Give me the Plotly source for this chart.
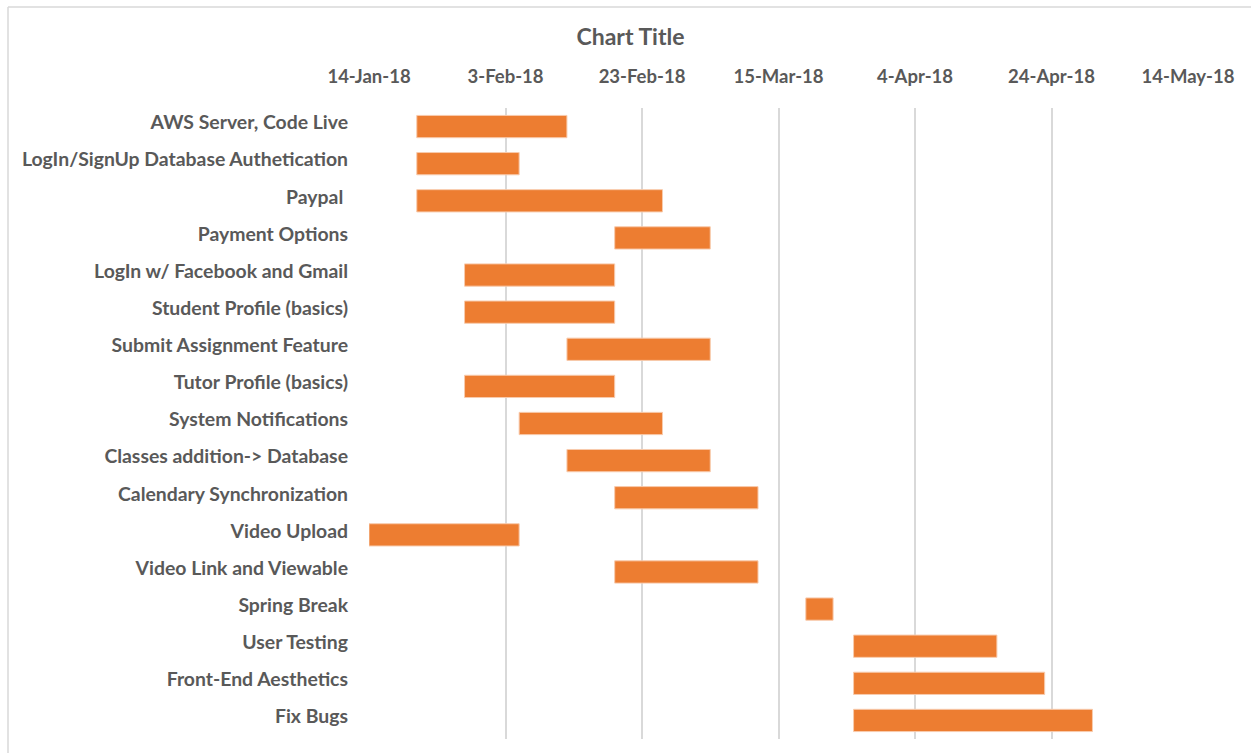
import plotly.graph_objects as go
import pandas as pd

tasks = [
    "AWS Server, Code Live",
    "LogIn/SignUp Database Authetication",
    "Paypal ",
    "Payment Options",
    "LogIn w/ Facebook and Gmail",
    "Student Profile (basics)",
    "Submit Assignment Feature",
    "Tutor Profile (basics)",
    "System Notifications",
    "Classes addition-> Database",
    "Calendary Synchronization",
    "Video Upload",
    "Video Link and Viewable",
    "Spring Break",
    "User Testing",
    "Front-End Aesthetics",
    "Fix Bugs",
]
start_dates = [
    "2018-01-21", "2018-01-21", "2018-01-21", "2018-02-19", "2018-01-28",
    "2018-01-28", "2018-02-12", "2018-01-28", "2018-02-05", "2018-02-12",
    "2018-02-19", "2018-01-14", "2018-02-19", "2018-03-19", "2018-03-26",
    "2018-03-26", "2018-03-26",
]
durations_days = [22, 15, 36, 14, 22, 22, 21, 22, 21, 21, 21, 22, 21, 4, 21, 28, 35]

tick_dates = ["2018-01-14", "2018-02-03", "2018-02-23", "2018-03-15",
              "2018-04-04", "2018-04-24", "2018-05-14"]
tick_labels = ["14-Jan-18", "3-Feb-18", "23-Feb-18", "15-Mar-18",
               "4-Apr-18", "24-Apr-18", "14-May-18"]

durations_ms = [d * 24 * 3600 * 1000 for d in durations_days]

FONT = "Lato"
GRAY = "#595959"

fig = go.Figure()
fig.add_trace(go.Bar(
    y=tasks,
    x=durations_ms,
    base=start_dates,
    orientation="h",
    width=0.6,
    marker=dict(color="#ED7D31", line=dict(color="#F8CBAD", width=1)),
    hoverinfo="skip",
))

fig.update_layout(
    width=1251, height=753,
    margin=dict(l=369, r=63, t=108, b=14),
    paper_bgcolor="white",
    plot_bgcolor="white",
    showlegend=False,
    title=dict(text="<b>Chart Title</b>", x=0.504, xanchor="center",
               y=1 - 37 / 753, yanchor="middle",
               font=dict(family=FONT, size=23, color=GRAY)),
    xaxis=dict(
        type="date", side="top",
        range=["2018-01-14", "2018-05-14"],
        tickvals=tick_dates, ticktext=["<b>%s</b>" % t for t in tick_labels],
        tickfont=dict(family=FONT, size=18.5, color=GRAY),
        showgrid=True, gridcolor="#D9D9D9", gridwidth=1.5,
        zeroline=False, showline=False, ticks="",
        ticklabelstandoff=20,
    ),
    yaxis=dict(
        type="category", autorange="reversed",
        tickvals=tasks, ticktext=["<b>%s</b>" % t for t in tasks],
        tickfont=dict(family=FONT, size=19.4, color=GRAY),
        showgrid=False, zeroline=False, showline=False, ticks="",
        ticklabelstandoff=20, ticklabelshift=4,
    ),
    shapes=[
        dict(type="line", xref="paper", yref="paper",
             x0=(8 - 369) / 819, x1=(1251 - 369) / 819,
             y0=1 + (108 - 7) / 631, y1=1 + (108 - 7) / 631,
             line=dict(color="#D9D9D9", width=1.5)),
        dict(type="line", xref="paper", yref="paper",
             x0=(8 - 369) / 819, x1=(8 - 369) / 819,
             y0=1 + (108 - 7) / 631, y1=-(753 - 739) / 631 - 0.01,
             line=dict(color="#D9D9D9", width=1.5)),
    ],
)

fig.write_html("out.html")
